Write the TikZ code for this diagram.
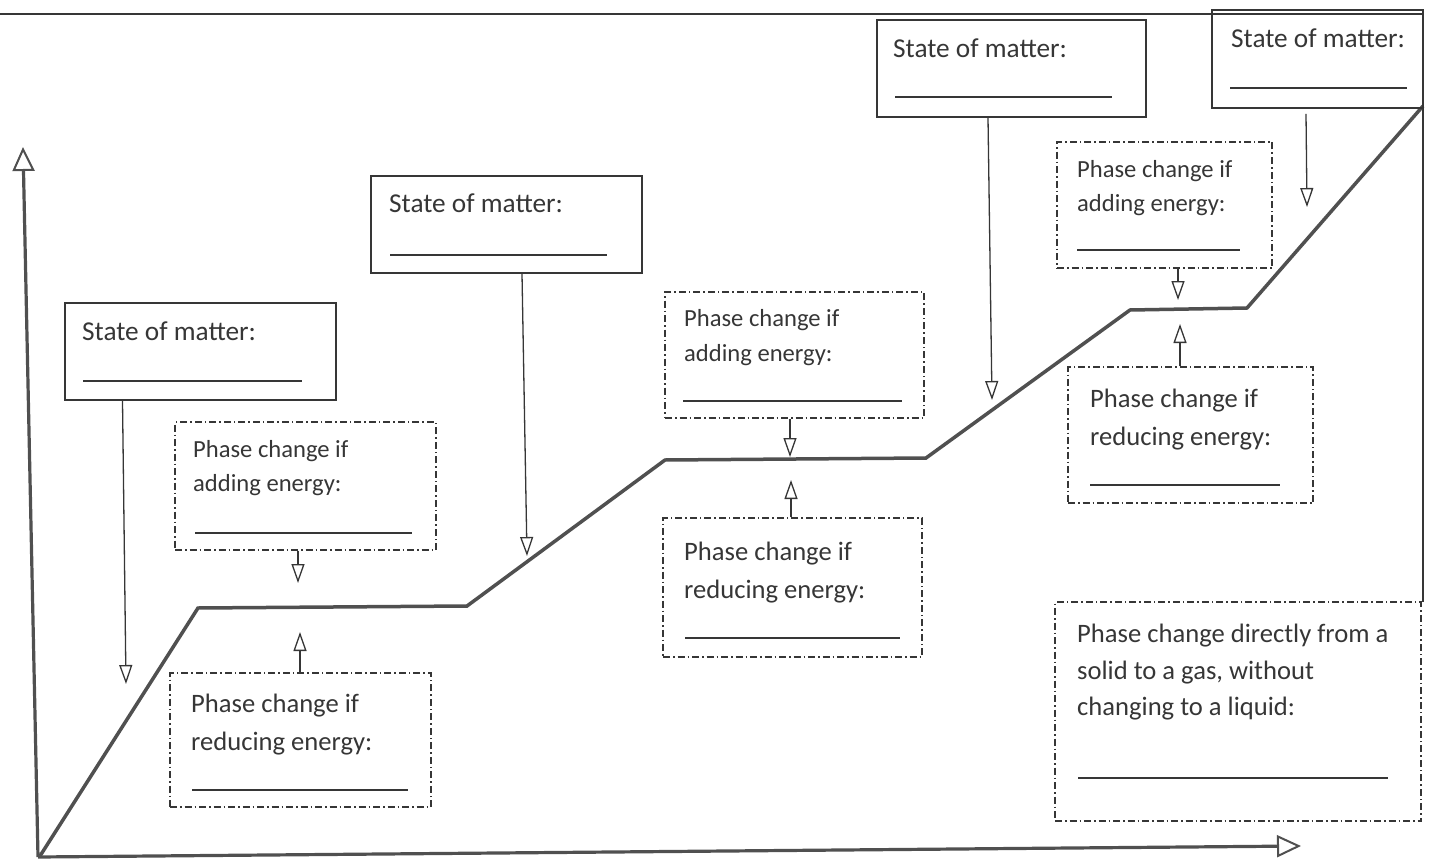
\documentclass[tikz,border=0pt]{standalone}
\usepackage{fontspec}
\setmainfont{Carlito}
\usetikzlibrary{arrows.meta}
\definecolor{ink}{HTML}{363636}
\definecolor{graphc}{HTML}{505050}
\begin{document}
\begin{tikzpicture}[x=1pt,y=-1pt,
  sbox/.style={draw=ink, line width=1.6pt, rectangle, inner sep=0pt},
  pbox/.style={draw=ink, line width=1.3pt, dash pattern=on 7pt off 3pt on 1.5pt off 3pt, rectangle, inner sep=0pt},
  lbl/.style={anchor=base west, inner sep=0pt, text=ink},
  sfont/.style={font=\fontsize{27.3}{32}\selectfont},
  afont/.style={font=\fontsize{24.6}{30}\selectfont},
  rfont/.style={font=\fontsize{26.6}{32}\selectfont},
  blank/.style={draw=ink, line width=1.4pt},
  conn/.style={draw=ink, line width=1.3pt, -{Triangle[open,length=19pt,width=13pt]}},
  axis/.style={draw=graphc, line width=3.2pt, -{Triangle[open,length=24pt,width=22pt,line width=2pt]}},
  curve/.style={draw=graphc, line width=3.5pt, line join=miter}
]
\useasboundingbox (0,0) rectangle (1432,864);
% frame
\draw[ink, line width=1.5pt] (0,14) -- (1423,14) -- (1423,602);

% axes and curve
\coordinate (O) at (38,857);
\coordinate (Ytip) at (23,147);
\coordinate (Xtip) at (1301,846);
\draw[axis] (O) -- (Ytip);
\draw[axis] (O) -- (Xtip);
\draw[curve] (40,856) -- (198,608) -- (467,606) -- (665,460) -- (926,458) -- (1130,310) -- (1247,308) -- (1423,106);

% State of matter boxes
\node[sbox, minimum width=271pt, minimum height=97pt] (B1) at (200.5,351.5) {};
\node[lbl, sfont] (B1t) at (82,340) {State of matter:};
\draw[blank] (83,381) -- (302,381);

\node[sbox, minimum width=271pt, minimum height=97pt] (B2) at (506.5,224.5) {};
\node[lbl, sfont] (B2t) at (389,212) {State of matter:};
\draw[blank] (390,255) -- (607,255);

\node[sbox, minimum width=269pt, minimum height=97pt] (B3) at (1011.5,68.5) {};
\node[lbl, sfont] (B3t) at (893,58) {State of matter:};
\draw[blank] (895,97) -- (1112,97);

\node[sbox, minimum width=211pt, minimum height=98pt] (B4) at (1317.5,59) {};
\node[lbl, sfont] (B4t) at (1231,48) {State of matter:};
\draw[blank] (1230,88) -- (1407,88);

% Phase change boxes
\node[pbox, minimum width=261pt, minimum height=128pt] (P1) at (305.5,486) {};
\node[lbl, afont] (P1a) at (193,457) {Phase change if};
\node[lbl, afont] (P1b) at (193,491) {adding energy:};
\draw[blank] (195,533) -- (412,533);

\node[pbox, minimum width=261pt, minimum height=134pt] (P2) at (300.5,740) {};
\node[lbl, rfont] (P2a) at (191,712) {Phase change if};
\node[lbl, rfont] (P2b) at (191,750) {reducing energy:};
\draw[blank] (192,790) -- (408,790);

\node[pbox, minimum width=259pt, minimum height=126pt] (P3) at (794.5,355) {};
\node[lbl, afont] (P3a) at (684,326) {Phase change if};
\node[lbl, afont] (P3b) at (684,361) {adding energy:};
\draw[blank] (683,401) -- (902,401);

\node[pbox, minimum width=259pt, minimum height=139pt] (P4) at (792.5,587.5) {};
\node[lbl, rfont] (P4a) at (684,560) {Phase change if};
\node[lbl, rfont] (P4b) at (684,598) {reducing energy:};
\draw[blank] (685,638) -- (900,638);

\node[pbox, minimum width=215pt, minimum height=126pt] (P5) at (1164.5,205) {};
\node[lbl, afont] (P5a) at (1077,177) {Phase change if};
\node[lbl, afont] (P5b) at (1077,211) {adding energy:};
\draw[blank] (1077,250) -- (1240,250);

\node[pbox, minimum width=245pt, minimum height=136pt] (P6) at (1190.5,435) {};
\node[lbl, rfont] (P6a) at (1090,407) {Phase change if};
\node[lbl, rfont] (P6b) at (1090,445) {reducing energy:};
\draw[blank] (1090,485) -- (1280,485);

\node[pbox, minimum width=366pt, minimum height=219pt] (P7) at (1238,711.5) {};
\node[lbl, rfont] (P7a) at (1077,642) {Phase change directly from a};
\node[lbl, rfont] (P7b) at (1077,679) {solid to a gas, without};
\node[lbl, rfont] (P7c) at (1077,715) {changing to a liquid:};
\draw[blank] (1078,778) -- (1388,778);

% arrow targets
\coordinate (tB1) at (126,684);
\coordinate (tB2) at (527,556);
\coordinate (tB3) at (992,400);
\coordinate (tB4) at (1307,207);
\coordinate (tP1) at (298,583);
\coordinate (tP2) at (300,632);
\coordinate (tP3) at (790,457);
\coordinate (tP4) at (791,480);
\coordinate (tP5) at (1178,300);
\coordinate (tP6) at (1180,324);

% connectors
\draw[conn] ([xshift=-78pt]B1.south) -- (tB1);
\draw[conn] ([xshift=15.5pt]B2.south) -- (tB2);
\draw[conn] ([xshift=-23.5pt]B3.south) -- (tB3);
\draw[conn] ([xshift=-11.5pt,yshift=-5pt]B4.south) -- (tB4);
\draw[conn] (P1.south -| tP1) -- (tP1);
\draw[conn] (P2.north -| tP2) -- (tP2);
\draw[conn] (P3.south -| tP3) -- (tP3);
\draw[conn] (P4.north -| tP4) -- (tP4);
\draw[conn] (P5.south -| tP5) -- (tP5);
\draw[conn] (P6.north -| tP6) -- (tP6);
\end{tikzpicture}
\end{document}
